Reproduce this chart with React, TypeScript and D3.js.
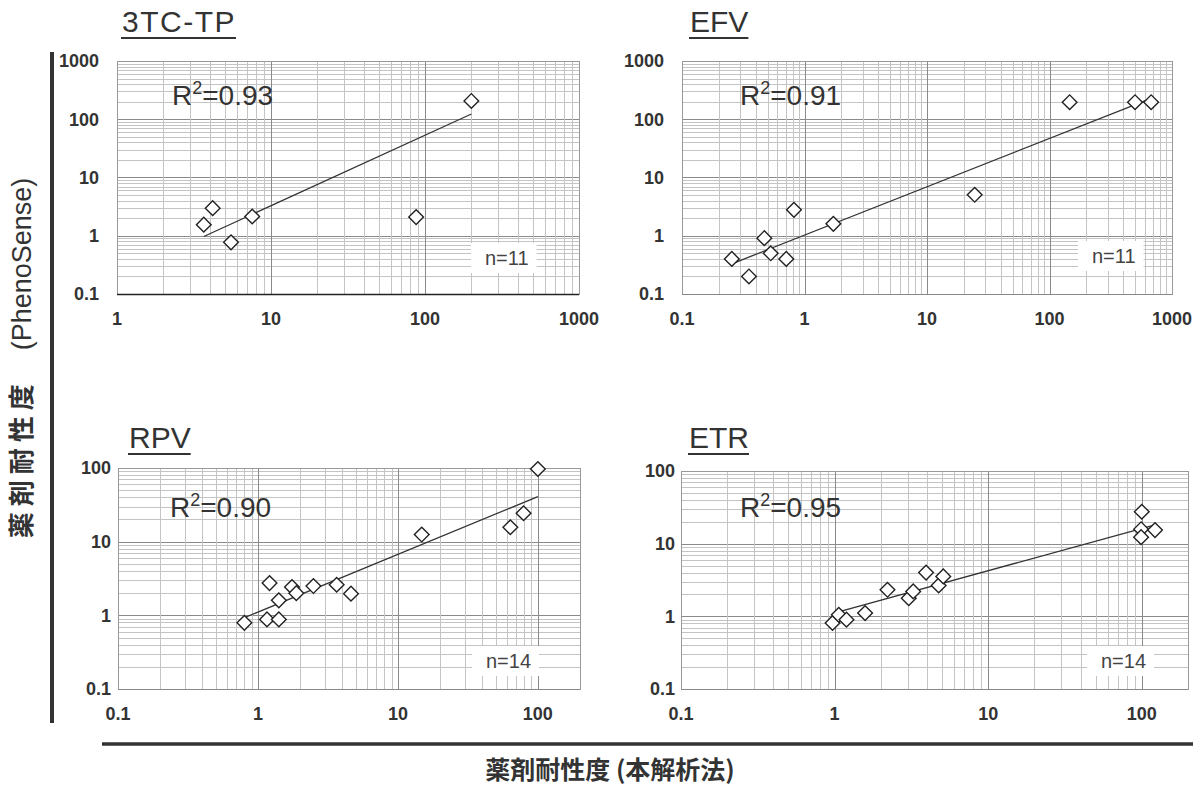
import React, { useRef, useEffect } from 'react';
import * as d3 from 'd3';

// 3TC-TP
const tcX = [3.66, 4.18, 5.5, 7.55, 87.6, 200];
const tcY = [1.55, 2.98, 0.77, 2.14, 2.09, 206];
const tcTrendX = [3.66, 200];
const tcTrendY = [0.97, 123];

// EFV
const efvX = [0.255, 0.352, 0.47, 0.53, 0.71, 0.82, 1.72, 24.5, 146, 499, 676];
const efvY = [0.4, 0.2, 0.91, 0.5, 0.4, 2.79, 1.6, 5.05, 196, 196, 196];
const efvTrendX = [0.274, 676];
const efvTrendY = [0.35, 229];

// RPV
const rpvX = [0.8, 1.16, 1.21, 1.41, 1.41, 1.75, 1.88, 2.49, 3.65, 4.62, 14.8, 63.6, 79, 100];
const rpvY = [0.79, 0.88, 2.74, 1.6, 0.88, 2.42, 2.0, 2.5, 2.6, 1.97, 12.5, 15.7, 24.3, 96.9];
const rpvTrendX = [0.8, 100];
const rpvTrendY = [0.93, 40.9];

// ETR
const etrX = [0.97, 1.065, 1.195, 1.58, 2.21, 3.04, 3.25, 3.94, 4.76, 5.1, 100, 99, 99, 122];
const etrY = [0.81, 1.05, 0.9, 1.11, 2.32, 1.78, 2.2, 4.0, 2.66, 3.54, 27.5, 15.8, 12.3, 15.4];
const etrTrendX = [0.99, 122];
const etrTrendY = [1.11, 18.1];

const titles = ['3TC-TP', 'EFV', 'RPV', 'ETR'];
const r2Values = ['0.93', '0.91', '0.90', '0.95'];
const nValues = [11, 11, 14, 14];

const topYTicks = [0.1, 1, 10, 100, 1000];
const lowYTicks = [0.1, 1, 10, 100];
const tcXTicks = [1, 10, 100, 1000];
const efvXTicks = [0.1, 1, 10, 100, 1000];
const lowXTicks = [0.1, 1, 10, 100];

const yAxisTitle = '薬剤耐性度';
const yAxisSub = '(PhenoSense)';
const xAxisTitle = '薬剤耐性度 (本解析法)';

const panels = [
  { xs: tcX, ys: tcY, tx: tcTrendX, ty: tcTrendY, xTicks: tcXTicks, yTicks: topYTicks,
    xDomain: [1, 1000], yDomain: [0.1, 1000],
    left: 117, right: 579, top: 61, bottom: 294, gap: 18, darkAxis: true,
    title: [122, 32], r2: [172, 105], n: [485, 265] },
  { xs: efvX, ys: efvY, tx: efvTrendX, ty: efvTrendY, xTicks: efvXTicks, yTicks: topYTicks,
    xDomain: [0.1, 1000], yDomain: [0.1, 1000],
    left: 682, right: 1172, top: 61, bottom: 294, gap: 18, darkAxis: false,
    title: [690, 32], r2: [740, 105], n: [1092, 263] },
  { xs: rpvX, ys: rpvY, tx: rpvTrendX, ty: rpvTrendY, xTicks: lowXTicks, yTicks: lowYTicks,
    xDomain: [0.1, 200], yDomain: [0.1, 100],
    left: 118, right: 580, top: 468, bottom: 689, gap: 7, darkAxis: false,
    title: [129, 448], r2: [170, 517], n: [486, 668] },
  { xs: etrX, ys: etrY, tx: etrTrendX, ty: etrTrendY, xTicks: lowXTicks, yTicks: lowYTicks,
    xDomain: [0.1, 200], yDomain: [0.1, 100],
    left: 681, right: 1188, top: 471, bottom: 689, gap: 6, darkAxis: false,
    title: [689, 448], r2: [740, 517], n: [1101, 668] },
];

const LATIN = '"Liberation Sans", Arial, sans-serif';
const CJK = '"Noto Sans CJK JP", "Liberation Sans", sans-serif';
const INK = '#333';

export default function App() {
  const svgRef = useRef<SVGSVGElement>(null);

  useEffect(() => {
    const svg = d3.select(svgRef.current);
    svg.selectAll('*').remove();

    svg.append('rect').attr('width', 1201).attr('height', 785).attr('fill', '#fff');

    panels.forEach((p, i) => {
      const x = d3.scaleLog().domain(p.xDomain).range([p.left, p.right]);
      const y = d3.scaleLog().domain(p.yDomain).range([p.bottom, p.top]);
      const g = svg.append('g');
      const isMajor = (v: number) => Math.abs(Math.log10(v) - Math.round(Math.log10(v))) < 1e-9;
      const crisp = (v: number) => Math.round(v) + 0.5;

      // grid
      const xt = x.ticks();
      const yt = y.ticks();
      g.append('g').selectAll('line').data(yt).join('line')
        .attr('x1', p.left).attr('x2', p.right)
        .attr('y1', d => crisp(y(d))).attr('y2', d => crisp(y(d)))
        .attr('stroke', d => isMajor(d) ? '#8a8a8a' : '#c4c4c4')
        .attr('stroke-width', 1);
      g.append('g').selectAll('line').data(xt).join('line')
        .attr('y1', p.top).attr('y2', p.bottom)
        .attr('x1', d => crisp(x(d))).attr('x2', d => crisp(x(d)))
        .attr('stroke', d => isMajor(d) ? '#8a8a8a' : '#c4c4c4')
        .attr('stroke-width', 1);

      g.append('rect')
        .attr('x', crisp(p.left)).attr('y', crisp(p.top))
        .attr('width', Math.round(p.right - p.left)).attr('height', Math.round(p.bottom - p.top))
        .attr('fill', 'none').attr('stroke', '#999');
      g.append('line')
        .attr('x1', p.left).attr('x2', p.right)
        .attr('y1', crisp(p.bottom)).attr('y2', crisp(p.bottom))
        .attr('stroke', p.darkAxis ? '#222' : '#888')
        .attr('stroke-width', p.darkAxis ? 1.6 : 1);

      // tick labels
      g.append('g').selectAll('text').data(p.yTicks).join('text')
        .attr('x', p.left - p.gap).attr('y', d => y(d)).attr('dy', '0.36em')
        .attr('text-anchor', 'end')
        .style('font', `bold 18px ${LATIN}`).attr('fill', INK)
        .text(d => String(d));
      g.append('g').selectAll('text').data(p.xTicks).join('text')
        .attr('x', d => x(d)).attr('y', p.bottom + 31)
        .attr('text-anchor', 'middle')
        .style('font', `bold 18px ${LATIN}`).attr('fill', INK)
        .text(d => String(d));

      // trend line
      const pts = p.tx.map((v, k) => [v, p.ty[k]] as [number, number]);
      g.append('path')
        .attr('d', d3.line<[number, number]>().x(d => x(d[0])).y(d => y(d[1]))(pts))
        .attr('fill', 'none').attr('stroke', '#333').attr('stroke-width', 1.3);

      // points
      const diamond = d3.symbol().type(d3.symbolSquare).size(108);
      g.append('g').selectAll('path').data(p.xs.map((v, k) => [v, p.ys[k]]))
        .join('path')
        .attr('d', diamond())
        .attr('transform', d => `translate(${x(d[0])},${y(d[1])}) rotate(45)`)
        .attr('fill', '#fff').attr('stroke', '#222').attr('stroke-width', 1.4);

      // title
      const title = g.append('text')
        .attr('x', p.title[0]).attr('y', p.title[1])
        .style('font', `30px ${LATIN}`).style('letter-spacing', i === 0 ? '1.5px' : '0px')
        .attr('fill', INK).text(titles[i]);
      const tw = (title.node() as SVGTextElement).getComputedTextLength();
      g.append('line')
        .attr('x1', p.title[0] - 1).attr('x2', p.title[0] + tw)
        .attr('y1', p.title[1] + 6).attr('y2', p.title[1] + 6)
        .attr('stroke', INK).attr('stroke-width', 2);

      // R2
      const r2 = g.append('text')
        .attr('x', p.r2[0]).attr('y', p.r2[1])
        .style('font', `28px ${LATIN}`).attr('fill', INK);
      r2.append('tspan').text('R');
      r2.append('tspan').attr('dy', -11).style('font-size', '18px').text('2');
      r2.append('tspan').attr('dy', 11).text('=' + r2Values[i]);

      // n label with white box
      const nt = g.append('text')
        .attr('x', p.n[0]).attr('y', p.n[1])
        .style('font', `20px ${LATIN}`).attr('fill', '#444')
        .text('n=' + nValues[i]);
      const bb = (nt.node() as SVGTextElement).getBBox();
      g.insert('rect', () => nt.node() as any)
        .attr('x', bb.x - 14).attr('y', bb.y - 4)
        .attr('width', bb.width + 22).attr('height', bb.height + 8)
        .attr('fill', '#fff');
    });

    // frame bars
    svg.append('line').attr('x1', 52).attr('x2', 52).attr('y1', 52).attr('y2', 723)
      .attr('stroke', '#333').attr('stroke-width', 4);
    svg.append('line').attr('x1', 102).attr('x2', 1193).attr('y1', 744).attr('y2', 744)
      .attr('stroke', '#333').attr('stroke-width', 3.5);

    // axis titles
    const yl = svg.append('text')
      .attr('transform', 'translate(31,358) rotate(-90)')
      .attr('text-anchor', 'middle')
      .attr('fill', INK);
    yl.append('tspan').style('font', `bold 26px ${CJK}`).style('letter-spacing', '6px').text(yAxisTitle);
    yl.append('tspan').attr('dx', 28).style('font', `27px ${LATIN}`).text(yAxisSub);

    svg.append('text')
      .attr('x', 610).attr('y', 779)
      .attr('text-anchor', 'middle')
      .style('font', `bold 25px ${CJK}`).attr('fill', INK)
      .text(xAxisTitle);
  }, []);

  return (
    <svg ref={svgRef} width={1201} height={785}
      style={{ position: 'absolute', left: 0, top: 0, display: 'block' }} />
  );
}
